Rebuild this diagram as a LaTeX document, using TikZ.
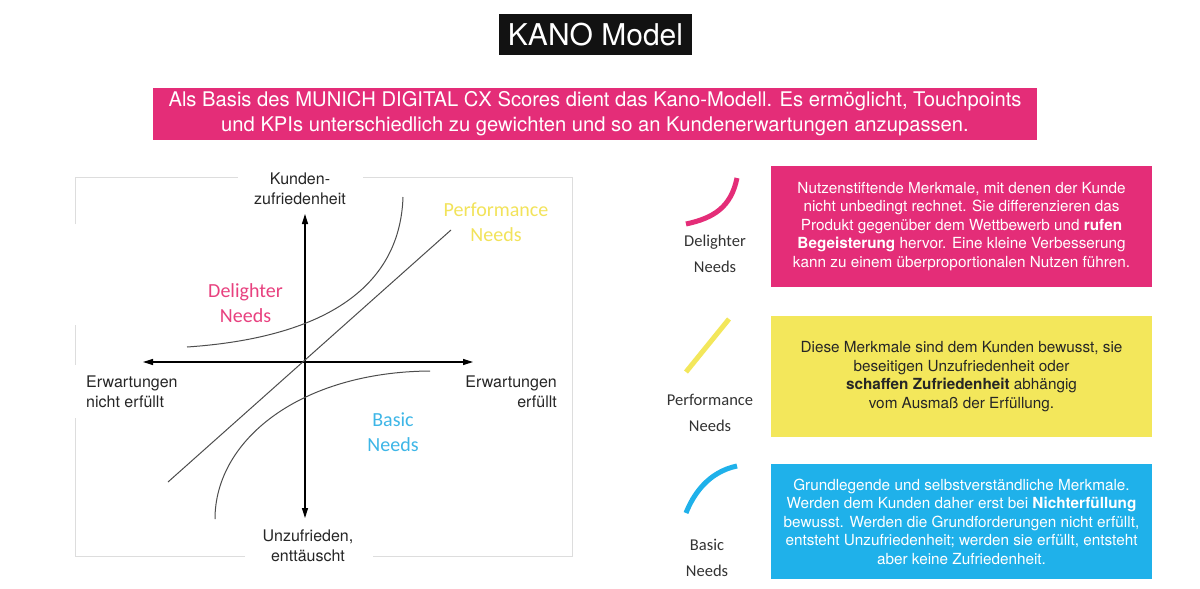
\documentclass[tikz,border=0pt]{standalone}
\usepackage{fontspec}
\setmainfont{TeX Gyre Heros}
\newfontfamily\calfont{Carlito}
\usetikzlibrary{arrows.meta}
\definecolor{kanopink}{HTML}{E42D78}
\definecolor{kanoyellow}{HTML}{F3E75B}
\definecolor{kanoblue}{HTML}{1FB1EA}
\definecolor{delpink}{HTML}{E8417F}
\definecolor{perfyellow}{HTML}{F2E35A}
\definecolor{basblue}{HTML}{3DB6E7}
\definecolor{framegray}{HTML}{DDDDDD}
\definecolor{curvegray}{HTML}{4D4D4D}
\begin{document}
\begin{tikzpicture}[x=1pt,y=-1pt,
  axislbl/.style={font=\fontsize{16}{19.5}\selectfont, text=black!85, inner sep=0pt},
  needlbl/.style={font=\calfont\fontsize{20}{25}\selectfont, inner sep=0pt, align=center},
  iconlbl/.style={font=\calfont\fontsize{16.5}{26}\selectfont, text=black!80, inner sep=0pt, align=center},
  infobox/.style={minimum width=381pt, minimum height=121pt, inner sep=0pt, align=center,
    font=\fontsize{15.3}{18.5}\selectfont},
  rim/.style={framegray, line width=1pt},
  axis/.style={line width=1.2pt, {Triangle[length=10pt,width=6pt]}-{Triangle[length=10pt,width=6pt]}},
  curve/.style={curvegray, line width=1pt},
  icon/.style={line width=5pt}]
 \path[use as bounding box, fill=white] (0,0) rectangle (1200,589);
 % heading
 \node[fill=black!93, text=white, font=\fontsize{30}{34}\selectfont, minimum width=193pt,
   minimum height=41pt, inner sep=0pt] (title) at (595.5,34.5) {KANO Model};
 \node[fill=kanopink, text=white, font=\fontsize{20.2}{25}\selectfont, minimum width=884pt,
   minimum height=52pt, inner sep=0pt, align=center] (intro) at (595,114)
   {Als Basis des MUNICH DIGITAL CX Scores dient das Kano-Modell. Es ermöglicht, Touchpoints\\
    und KPIs unterschiedlich zu gewichten und so an Kundenerwartungen anzupassen.};
 % chart
 \draw[rim] (75,224) -- (75,177) -- (238,177);
 \draw[rim] (363,177) -- (572,177) -- (572,556) -- (373,556);
 \draw[rim] (245,556) -- (75,556) -- (75,418);
 \draw[rim] (75,325) -- (75,365);
 \coordinate (xl) at (143,362); \coordinate (xr) at (473,362);
 \coordinate (yt) at (305,214); \coordinate (yb) at (305,518);
 \draw[axis] (xl) -- (xr);
 \draw[axis] (yb) -- (yt);
 \coordinate (d0) at (187,347); \coordinate (d1) at (403,197);
 \coordinate (p0) at (168,482); \coordinate (p1) at (451,230);
 \coordinate (b0) at (215,519); \coordinate (b1) at (430,371);
 \draw[curve] (d0) .. controls (320,338) and (400,290) .. (d1);
 \draw[curve] (p0) -- (p1);
 \draw[curve] (b0) .. controls (215,440) and (300,372) .. (b1);
 \node[axislbl, align=center] (ytop) at (300,189) {Kunden-\\zufriedenheit};
 \node[axislbl, align=left, anchor=west] (xleft) at (86,392) {Erwartungen\\nicht erfüllt};
 \node[axislbl, align=right, anchor=east] (xright) at (557,392) {Erwartungen\\erfüllt};
 \node[axislbl, align=center] (ybot) at (308,546) {Unzufrieden,\\enttäuscht};
 \node[needlbl, text=delpink] (dellbl) at (245.5,303.5) {Delighter\\Needs};
 \node[needlbl, text=perfyellow] (perflbl) at (496,222.5) {Performance\\Needs};
 \node[needlbl, text=basblue] (baslbl) at (393,432.5) {Basic\\Needs};
 % legend
 \draw[icon, kanopink] (686,224) .. controls (714,218) and (731,207) .. (737,178);
 \draw[icon, kanoyellow] (686,372) -- (729,319);
 \draw[icon, kanoblue] (686,513) .. controls (693,495) and (708,472) .. (737,466);
 \node[iconlbl] (delicon) at (715,254) {Delighter\\Needs};
 \node[iconlbl] (perficon) at (710,413) {Performance\\Needs};
 \node[iconlbl] (basicon) at (707,557.5) {Basic\\Needs};
 \node[infobox, fill=kanopink, text=white] (delbox) at (961.5,226.5)
   {Nutzenstiftende Merkmale, mit denen der Kunde\\
    nicht unbedingt rechnet. Sie differenzieren das\\
    Produkt gegenüber dem Wettbewerb und \textbf{rufen}\\
    \textbf{Begeisterung} hervor. Eine kleine Verbesserung\\
    kann zu einem überproportionalen Nutzen führen.};
 \node[infobox, fill=kanoyellow, text=black!85] (perfbox) at (961.5,376.5)
   {Diese Merkmale sind dem Kunden bewusst, sie\\
    beseitigen Unzufriedenheit oder\\
    \textbf{schaffen Zufriedenheit} abhängig\\
    vom Ausmaß der Erfüllung.};
 \node[infobox, fill=kanoblue, text=white, minimum height=115pt] (basbox) at (961.5,521.5)
   {Grundlegende und selbstverständliche Merkmale.\\
    Werden dem Kunden daher erst bei \textbf{Nichterfüllung}\\
    bewusst. Werden die Grundforderungen nicht erfüllt,\\
    entsteht Unzufriedenheit; werden sie erfüllt, entsteht\\
    aber keine Zufriedenheit.};
\end{tikzpicture}
\end{document}
